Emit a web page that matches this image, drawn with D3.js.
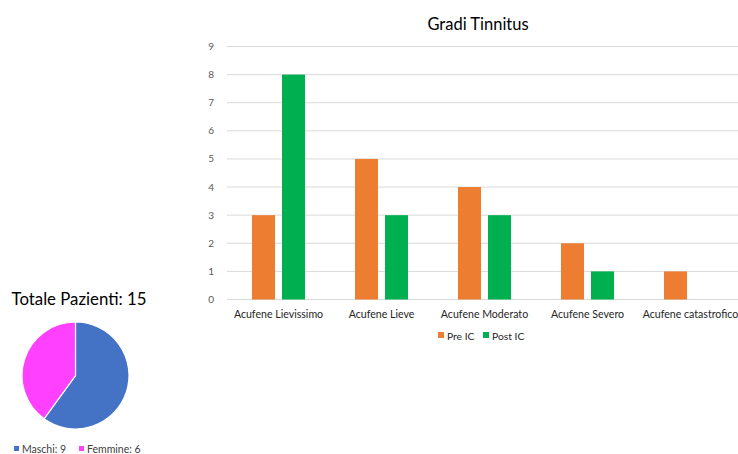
<!DOCTYPE html>
<html><head><meta charset="utf-8">
<script src="https://cdn.jsdelivr.net/npm/d3@7"></script>
<style>body{margin:0;background:#fff;}svg{display:block;font-family:Lato,"Open Sans",sans-serif;}</style>
</head><body>
<svg id="c" width="738" height="454"></svg>
<script>
const categories = ["Acufene Lievissimo","Acufene Lieve","Acufene Moderato","Acufene Severo","Acufene catastrofico"];
const seriesNames = ["Pre IC","Post IC"];
const preIC = [3,5,4,2,1];
const postIC = [8,3,3,1,0];
const yTicks = [0,1,2,3,4,5,6,7,8,9];
const pieLabels = ["Maschi","Femmine"];
const pieValues = [9,6];
const colors = {pre:"#ED7D31", post:"#00B050", m:"#4472C4", f:"#FF40FF"};

const svg = d3.select("#c");

// Bar chart
const x0 = d3.scaleBand().domain(categories).range([227,742]);
const y = d3.scaleLinear().domain([0,9]).range([299.5,46.5]);

svg.append("text").attr("x",478).attr("y",30).attr("text-anchor","middle")
  .attr("font-size",16.5).attr("fill","#000").text("Gradi Tinnitus");

const g = svg.append("g");
g.selectAll("line.grid").data(yTicks).join("line")
  .attr("x1",227).attr("x2",742).attr("y1",d=>y(d)).attr("y2",d=>y(d))
  .attr("stroke","#D9D9D9").attr("stroke-width",1);
g.selectAll("text.yt").data(yTicks).join("text")
  .attr("x",214).attr("y",d=>y(d)+3.5).attr("text-anchor","end")
  .attr("font-size",10).attr("fill","#595959").text(d=>d);

const bw = 23;
const series = [{name:"Pre IC",vals:preIC,col:colors.pre,off:-3.5-bw},{name:"Post IC",vals:postIC,col:colors.post,off:3.5}];
series.forEach(s=>{
  g.selectAll(null).data(categories.map((c,i)=>({c,v:s.vals[i]})).filter(d=>d.v>0)).join("rect")
    .attr("x",d=>x0(d.c)+x0.bandwidth()/2+s.off)
    .attr("y",d=>y(d.v)).attr("width",bw).attr("height",d=>y(0)-y(d.v))
    .attr("fill",s.col);
});
g.selectAll("text.cat").data(categories).join("text")
  .attr("x",d=>x0(d)+x0.bandwidth()/2).attr("y",318).attr("text-anchor","middle")
  .attr("font-size",10.6).attr("fill","#262626").text(d=>d);

// legend
const leg = [{n:"Pre IC",c:colors.pre,x:438},{n:"Post IC",c:colors.post,x:483}];
leg.forEach(l=>{
  svg.append("rect").attr("x",l.x).attr("y",332).attr("width",6).attr("height",6).attr("fill",l.c);
  svg.append("text").attr("x",l.x+9).attr("y",339.5).attr("font-size",10.3).attr("fill","#262626").text(l.n);
});

// Pie
svg.append("text").attr("x",79).attr("y",305).attr("text-anchor","middle")
  .attr("font-size",16.8).attr("fill","#000").text("Totale Pazienti: " + d3.sum(pieValues));
const pie = d3.pie().sort(null)(pieValues);
const arc = d3.arc().innerRadius(0).outerRadius(53.5);
const pg = svg.append("g").attr("transform","translate(75.5,375.5)");
pg.selectAll("path").data(pie).join("path").attr("d",arc)
  .attr("fill",(d,i)=>[colors.m,colors.f][i]).attr("stroke","#fff").attr("stroke-width",1.2);
const pleg = [{i:0,x:14},{i:1,x:79}];
pleg.forEach(p=>{
  svg.append("rect").attr("x",p.x).attr("y",446).attr("width",5).attr("height",5).attr("fill",[colors.m,colors.f][p.i]);
  svg.append("text").attr("x",p.x+8).attr("y",453).attr("font-size",10.5).attr("fill","#404040")
    .text(pieLabels[p.i]+": "+pieValues[p.i]);
});
</script>
</body></html>
